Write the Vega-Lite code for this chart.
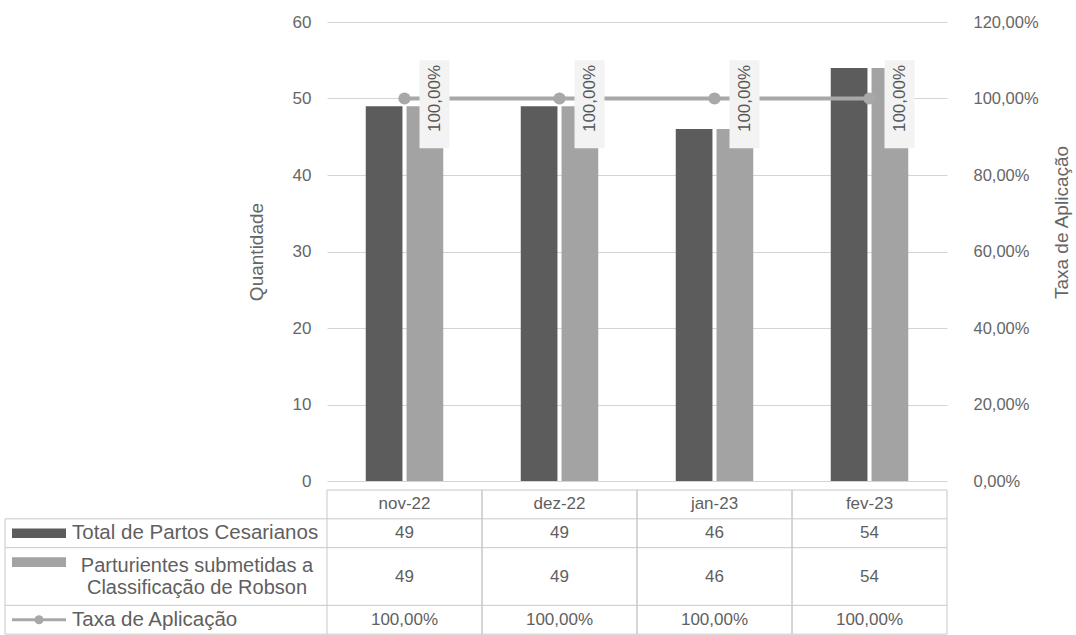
{
  "$schema": "https://vega.github.io/schema/vega-lite/v6.json",
  "width": 620,
  "height": 459,
  "autosize": {"type": "none"},
  "padding": {"left": 327, "top": 22, "right": 129, "bottom": 154},
  "background": "white",
  "config": {
    "locale": {"number": {"decimal": ",", "thousands": ".", "grouping": [3], "currency": ["R$ ", ""]}},
    "font": "Liberation Sans",
    "view": {"stroke": null},
    "text": {"font": "Liberation Sans", "color": "#5f5f5f"},
    "axis": {"labelFont": "Liberation Sans", "titleFont": "Liberation Sans"}
  },
  "datasets": {
    "barras": [
      {"mes": "nov-22", "serie": "Total de Partos Cesarianos", "valor": 49},
      {"mes": "dez-22", "serie": "Total de Partos Cesarianos", "valor": 49},
      {"mes": "jan-23", "serie": "Total de Partos Cesarianos", "valor": 46},
      {"mes": "fev-23", "serie": "Total de Partos Cesarianos", "valor": 54},
      {"mes": "nov-22", "serie": "Parturientes submetidas a Classificação de Robson", "valor": 49},
      {"mes": "dez-22", "serie": "Parturientes submetidas a Classificação de Robson", "valor": 49},
      {"mes": "jan-23", "serie": "Parturientes submetidas a Classificação de Robson", "valor": 46},
      {"mes": "fev-23", "serie": "Parturientes submetidas a Classificação de Robson", "valor": 54}
    ],
    "taxa": [
      {"mes": "nov-22", "taxa": 1},
      {"mes": "dez-22", "taxa": 1},
      {"mes": "jan-23", "taxa": 1},
      {"mes": "fev-23", "taxa": 1}
    ],
    "rotulos": [
      {"linha": "r1", "rotulo": "Total de Partos Cesarianos"},
      {"linha": "r3", "rotulo": "Taxa de Aplicação"}
    ],
    "rotulo2": [
      {"linha": "r2b", "rotulo": "Parturientes submetidas a\nClassificação de Robson"}
    ],
    "chaves": [
      {"linha": "r1", "serie": "Total de Partos Cesarianos"},
      {"linha": "r2a", "serie": "Parturientes submetidas a Classificação de Robson"}
    ],
    "linhasH": [
      {"linha": "hdr"}, {"linha": "r1"}, {"linha": "r2a"}, {"linha": "r3"}, {"linha": "end"}
    ],
    "linhasHL": [
      {"linha": "r1"}, {"linha": "r2a"}, {"linha": "r3"}, {"linha": "end"}
    ]
  },
  "resolve": {"scale": {"x": "independent", "y": "independent"}},
  "layer": [
    {
      "data": {"name": "barras"},
      "mark": {"type": "bar"},
      "encoding": {
        "x": {"field": "mes", "type": "nominal", "sort": ["nov-22", "dez-22", "jan-23", "fev-23"], "scale": {"type": "band", "domain": ["nov-22", "dez-22", "jan-23", "fev-23"], "paddingInner": 0.5, "paddingOuter": 0.25}, "axis": null},
        "xOffset": {"field": "serie", "type": "nominal", "sort": ["Total de Partos Cesarianos", "Parturientes submetidas a Classificação de Robson"], "scale": {"paddingInner": 0.1, "paddingOuter": 0}},
        "y": {"field": "valor", "type": "quantitative", "scale": {"domain": [0, 60]},
          "axis": {"orient": "left", "values": [0, 10, 20, 30, 40, 50, 60], "grid": true, "gridColor": "#d4d4d4", "gridWidth": 1, "domain": false, "ticks": false, "labelPadding": 16, "labelFontSize": 17, "labelColor": "#666666", "title": "Quantidade", "titleFontSize": 19, "titleFontWeight": "normal", "titleColor": "#666666", "titlePadding": 26}},
        "color": {"field": "serie", "type": "nominal", "scale": {"domain": ["Total de Partos Cesarianos", "Parturientes submetidas a Classificação de Robson"], "range": ["#5c5c5c", "#a3a3a3"]}, "legend": null}
      }
    },
    {
      "data": {"name": "taxa"},
      "mark": {"type": "line", "color": "#a8a8a8", "strokeWidth": 4, "point": {"filled": true, "size": 150, "color": "#a8a8a8"}},
      "encoding": {
        "x": {"field": "mes", "type": "nominal", "sort": ["nov-22", "dez-22", "jan-23", "fev-23"], "scale": {"type": "band", "domain": ["nov-22", "dez-22", "jan-23", "fev-23"], "paddingInner": 0, "paddingOuter": 0}, "axis": null},
        "y": {"field": "taxa", "type": "quantitative", "scale": {"domain": [0, 1.2]},
          "axis": {"orient": "right", "values": [0, 0.2, 0.4, 0.6, 0.8, 1, 1.2], "format": ".2%", "grid": false, "domain": false, "ticks": false, "labelPadding": 26, "labelFontSize": 16.5, "labelColor": "#666666", "title": "Taxa de Aplicação", "titleFontSize": 19, "titleFontWeight": "normal", "titleColor": "#666666", "titleAngle": 270, "titleX": 114, "titleY": 200, "titleAlign": "center", "titleBaseline": "middle"}}
      }
    },
    {
      "data": {"name": "taxa"},
      "mark": {"type": "bar", "color": "#f3f3f3", "width": 30, "xOffset": 30},
      "encoding": {
        "x": {"field": "mes", "type": "nominal", "sort": ["nov-22", "dez-22", "jan-23", "fev-23"], "scale": {"type": "band", "domain": ["nov-22", "dez-22", "jan-23", "fev-23"], "paddingInner": 0, "paddingOuter": 0}, "axis": null},
        "y": {"datum": 1.1, "type": "quantitative", "scale": {"domain": [0, 1.2]}, "axis": null},
        "y2": {"datum": 0.87}
      }
    },
    {
      "data": {"name": "taxa"},
      "mark": {"type": "text", "angle": 270, "align": "center", "baseline": "middle", "dy": 30, "fontSize": 17, "color": "#555555"},
      "encoding": {
        "x": {"field": "mes", "type": "nominal", "sort": ["nov-22", "dez-22", "jan-23", "fev-23"], "scale": {"type": "band", "domain": ["nov-22", "dez-22", "jan-23", "fev-23"], "paddingInner": 0, "paddingOuter": 0}, "axis": null},
        "y": {"field": "taxa", "type": "quantitative", "scale": {"domain": [0, 1.2]}, "axis": null},
        "text": {"field": "taxa", "type": "quantitative", "format": ".2%"}
      }
    },
    {
      "data": {"name": "linhasH"},
      "mark": {"type": "rule", "color": "#c8c8c8", "strokeWidth": 1},
      "encoding": {
        "y": {"field": "linha", "type": "nominal", "bandPosition": 0, "scale": {"type": "band", "domain": ["hdr", "r1", "r2a", "r2b", "r3", "end"], "range": [468, 641], "paddingInner": 0, "paddingOuter": 0}, "axis": null}
      }
    },
    {
      "data": {"name": "taxa"},
      "mark": {"type": "rule", "color": "#c8c8c8", "strokeWidth": 1},
      "encoding": {
        "x": {"field": "mes", "type": "nominal", "bandPosition": 0, "scale": {"type": "band", "domain": ["nov-22", "dez-22", "jan-23", "fev-23"], "paddingInner": 0, "paddingOuter": 0}, "axis": null},
        "y": {"datum": "hdr", "type": "nominal", "bandPosition": 0, "scale": {"type": "band", "domain": ["hdr", "r1", "r2a", "r2b", "r3", "end"], "range": [468, 641], "paddingInner": 0, "paddingOuter": 0}, "axis": null},
        "y2": {"datum": "end", "bandPosition": 0}
      }
    },
    {
      "data": {"name": "taxa"},
      "mark": {"type": "rule", "color": "#c8c8c8", "strokeWidth": 1},
      "encoding": {
        "x": {"field": "mes", "type": "nominal", "bandPosition": 1, "scale": {"type": "band", "domain": ["nov-22", "dez-22", "jan-23", "fev-23"], "paddingInner": 0, "paddingOuter": 0}, "axis": null},
        "y": {"datum": "hdr", "type": "nominal", "bandPosition": 0, "scale": {"type": "band", "domain": ["hdr", "r1", "r2a", "r2b", "r3", "end"], "range": [468, 641], "paddingInner": 0, "paddingOuter": 0}, "axis": null},
        "y2": {"datum": "end", "bandPosition": 0}
      }
    },
    {
      "data": {"name": "linhasHL"},
      "mark": {"type": "rule", "color": "#c8c8c8", "strokeWidth": 1},
      "encoding": {
        "x": {"datum": "L", "type": "nominal", "scale": {"type": "point", "domain": ["L", "R"], "range": [-322, 0], "padding": 0}, "axis": null},
        "x2": {"datum": "R"},
        "y": {"field": "linha", "type": "nominal", "bandPosition": 0, "scale": {"type": "band", "domain": ["hdr", "r1", "r2a", "r2b", "r3", "end"], "range": [468, 641], "paddingInner": 0, "paddingOuter": 0}, "axis": null}
      }
    },
    {
      "data": {"values": [{"borda": "esquerda"}]},
      "mark": {"type": "rule", "color": "#c8c8c8", "strokeWidth": 1},
      "encoding": {
        "x": {"datum": "L", "type": "nominal", "scale": {"type": "point", "domain": ["L", "R"], "range": [-322, 0], "padding": 0}, "axis": null},
        "y": {"datum": "r1", "type": "nominal", "bandPosition": 0, "scale": {"type": "band", "domain": ["hdr", "r1", "r2a", "r2b", "r3", "end"], "range": [468, 641], "paddingInner": 0, "paddingOuter": 0}, "axis": null},
        "y2": {"datum": "end", "bandPosition": 0}
      }
    },
    {
      "data": {"name": "rotulos"},
      "mark": {"type": "text", "align": "left", "baseline": "middle", "dx": 67, "fontSize": 20.5, "color": "#5f5f5f"},
      "encoding": {
        "x": {"datum": "L", "type": "nominal", "scale": {"type": "point", "domain": ["L", "R"], "range": [-322, 0], "padding": 0}, "axis": null},
        "y": {"field": "linha", "type": "nominal", "scale": {"type": "band", "domain": ["hdr", "r1", "r2a", "r2b", "r3", "end"], "range": [468, 641], "paddingInner": 0, "paddingOuter": 0}, "axis": null},
        "text": {"field": "rotulo", "type": "nominal"}
      }
    },
    {
      "data": {"name": "rotulo2"},
      "mark": {"type": "text", "align": "center", "baseline": "middle", "dx": 192, "dy": -11, "fontSize": 20, "lineHeight": 22, "lineBreak": "\n", "color": "#5f5f5f"},
      "encoding": {
        "x": {"datum": "L", "type": "nominal", "scale": {"type": "point", "domain": ["L", "R"], "range": [-322, 0], "padding": 0}, "axis": null},
        "y": {"field": "linha", "type": "nominal", "bandPosition": 0, "scale": {"type": "band", "domain": ["hdr", "r1", "r2a", "r2b", "r3", "end"], "range": [468, 641], "paddingInner": 0, "paddingOuter": 0}, "axis": null},
        "text": {"field": "rotulo", "type": "nominal"}
      }
    },
    {
      "data": {"name": "chaves"},
      "mark": {"type": "point", "shape": "M-1,-0.18L1,-0.18L1,0.18L-1,0.18Z", "size": 2916, "filled": true, "opacity": 1, "xOffset": 34},
      "encoding": {
        "x": {"datum": "L", "type": "nominal", "scale": {"type": "point", "domain": ["L", "R"], "range": [-322, 0], "padding": 0}, "axis": null},
        "y": {"field": "linha", "type": "nominal", "scale": {"type": "band", "domain": ["hdr", "r1", "r2a", "r2b", "r3", "end"], "range": [468, 641], "paddingInner": 0, "paddingOuter": 0}, "axis": null},
        "color": {"field": "serie", "type": "nominal", "legend": null}
      }
    },
    {
      "data": {"values": [{"linha": "r3"}]},
      "mark": {"type": "point", "shape": "M-1,0L1,0", "size": 2916, "filled": false, "opacity": 1, "strokeWidth": 3, "color": "#a8a8a8", "xOffset": 34},
      "encoding": {
        "x": {"datum": "L", "type": "nominal", "scale": {"type": "point", "domain": ["L", "R"], "range": [-322, 0], "padding": 0}, "axis": null},
        "y": {"field": "linha", "type": "nominal", "scale": {"type": "band", "domain": ["hdr", "r1", "r2a", "r2b", "r3", "end"], "range": [468, 641], "paddingInner": 0, "paddingOuter": 0}, "axis": null}
      }
    },
    {
      "data": {"values": [{"linha": "r3"}]},
      "mark": {"type": "point", "shape": "circle", "size": 80, "filled": true, "opacity": 1, "color": "#a8a8a8", "xOffset": 34},
      "encoding": {
        "x": {"datum": "L", "type": "nominal", "scale": {"type": "point", "domain": ["L", "R"], "range": [-322, 0], "padding": 0}, "axis": null},
        "y": {"field": "linha", "type": "nominal", "scale": {"type": "band", "domain": ["hdr", "r1", "r2a", "r2b", "r3", "end"], "range": [468, 641], "paddingInner": 0, "paddingOuter": 0}, "axis": null}
      }
    },
    {
      "data": {"name": "taxa"},
      "mark": {"type": "text", "align": "center", "baseline": "middle", "fontSize": 17, "color": "#5f5f5f"},
      "encoding": {
        "x": {"field": "mes", "type": "nominal", "scale": {"type": "band", "domain": ["nov-22", "dez-22", "jan-23", "fev-23"], "paddingInner": 0, "paddingOuter": 0}, "axis": null},
        "y": {"datum": "hdr", "type": "nominal", "scale": {"type": "band", "domain": ["hdr", "r1", "r2a", "r2b", "r3", "end"], "range": [468, 641], "paddingInner": 0, "paddingOuter": 0}, "axis": null},
        "text": {"field": "mes", "type": "nominal"}
      }
    },
    {
      "data": {"name": "barras"},
      "transform": [{"filter": {"field": "serie", "equal": "Total de Partos Cesarianos"}}],
      "mark": {"type": "text", "align": "center", "baseline": "middle", "fontSize": 17, "color": "#5f5f5f"},
      "encoding": {
        "x": {"field": "mes", "type": "nominal", "scale": {"type": "band", "domain": ["nov-22", "dez-22", "jan-23", "fev-23"], "paddingInner": 0, "paddingOuter": 0}, "axis": null},
        "y": {"datum": "r1", "type": "nominal", "scale": {"type": "band", "domain": ["hdr", "r1", "r2a", "r2b", "r3", "end"], "range": [468, 641], "paddingInner": 0, "paddingOuter": 0}, "axis": null},
        "text": {"field": "valor", "type": "quantitative"}
      }
    },
    {
      "data": {"name": "barras"},
      "transform": [{"filter": {"field": "serie", "equal": "Parturientes submetidas a Classificação de Robson"}}],
      "mark": {"type": "text", "align": "center", "baseline": "middle", "fontSize": 17, "color": "#5f5f5f"},
      "encoding": {
        "x": {"field": "mes", "type": "nominal", "scale": {"type": "band", "domain": ["nov-22", "dez-22", "jan-23", "fev-23"], "paddingInner": 0, "paddingOuter": 0}, "axis": null},
        "y": {"datum": "r2b", "type": "nominal", "bandPosition": 0, "scale": {"type": "band", "domain": ["hdr", "r1", "r2a", "r2b", "r3", "end"], "range": [468, 641], "paddingInner": 0, "paddingOuter": 0}, "axis": null},
        "text": {"field": "valor", "type": "quantitative"}
      }
    },
    {
      "data": {"name": "taxa"},
      "mark": {"type": "text", "align": "center", "baseline": "middle", "fontSize": 17, "color": "#5f5f5f"},
      "encoding": {
        "x": {"field": "mes", "type": "nominal", "scale": {"type": "band", "domain": ["nov-22", "dez-22", "jan-23", "fev-23"], "paddingInner": 0, "paddingOuter": 0}, "axis": null},
        "y": {"datum": "r3", "type": "nominal", "scale": {"type": "band", "domain": ["hdr", "r1", "r2a", "r2b", "r3", "end"], "range": [468, 641], "paddingInner": 0, "paddingOuter": 0}, "axis": null},
        "text": {"field": "taxa", "type": "quantitative", "format": ".2%"}
      }
    }
  ]
}
